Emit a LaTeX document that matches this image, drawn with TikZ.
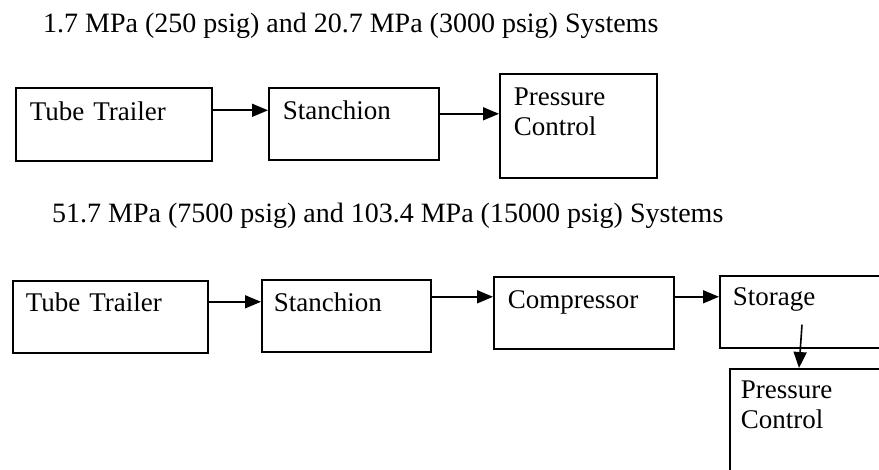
\documentclass[tikz,border=0pt]{standalone}
\usepackage{fontspec}
\setmainfont{Liberation Serif}
\usetikzlibrary{arrows.meta}

\begin{document}
\begin{tikzpicture}[x=1pt,y=-1pt,
    stagebox/.style={draw,line width=1.6pt,anchor=north west,inner xsep=14pt,inner ysep=0pt,
      align=left,font=\fontsize{27pt}{30pt}\selectfont},
    heading/.style={anchor=base west,inner sep=0pt,font=\fontsize{28pt}{30pt}\selectfont},
    flow/.style={line width=1.6pt,-{Triangle[length=16pt,width=13pt]}}]
  % Page frame
  \useasboundingbox (0,0) rectangle (879,470);
  \clip (0,0) rectangle (879,470);

  % Titles
  \node[heading] (title1) at (43,33) {1.7 MPa (250 psig) and 20.7 MPa (3000 psig) Systems};
  \node[heading] (title2) at (52,223) {51.7 MPa (7500 psig) and 103.4 MPa (15000 psig) Systems};

  % Low pressure system
  \node[stagebox,text width=168pt,text height=33pt,text depth=40pt] (trailer1) at (15,87) {Tube Trailer};
  \node[stagebox,text width=142pt,text height=32pt,text depth=40pt] (stanchion1) at (268,87) {Stanchion};
  \node[stagebox,text width=129pt,text height=32pt,text depth=72pt] (control1) at (499,73) {Pressure\\Control};

  % High pressure system
  \node[stagebox,inner xsep=13pt,text width=169pt,text height=31pt,text depth=41pt] (trailer2) at (12,280) {Tube Trailer};
  \node[stagebox,inner xsep=12pt,text width=145pt,text height=32pt,text depth=40pt] (stanchion2) at (261,279) {Stanchion};
  \node[stagebox,text width=152pt,text height=32pt,text depth=40pt] (compressor) at (493,276) {Compressor};
  \node[stagebox,inner xsep=13pt,text width=155pt,text height=30pt,text depth=42pt] (storage) at (719,275) {Storage};
  \node[stagebox,inner xsep=11pt,text width=160pt,text height=30pt,text depth=102pt] (control2) at (729,368) {Pressure\\Control};

  % Connections
  \draw[flow] ([yshift=14pt]trailer1.east) -- ([yshift=14pt]trailer1.east -| stanchion1.west);
  \draw[flow] ([yshift=10pt]stanchion1.east) -- ([yshift=10pt]stanchion1.east -| control1.west);
  \draw[flow] ([yshift=15pt]trailer2.east) -- ([yshift=15pt]trailer2.east -| stanchion2.west);
  \draw[flow] ([yshift=19pt]stanchion2.east) -- ([yshift=19pt]stanchion2.east -| compressor.west);
  \draw[flow] ([yshift=16pt]compressor.east) -- ([yshift=16pt]compressor.east -| storage.west);
  \draw[flow] ([xshift=83pt,yshift=24pt]storage.south west) -- ([xshift=70pt]control2.north west);
\end{tikzpicture}
\end{document}
